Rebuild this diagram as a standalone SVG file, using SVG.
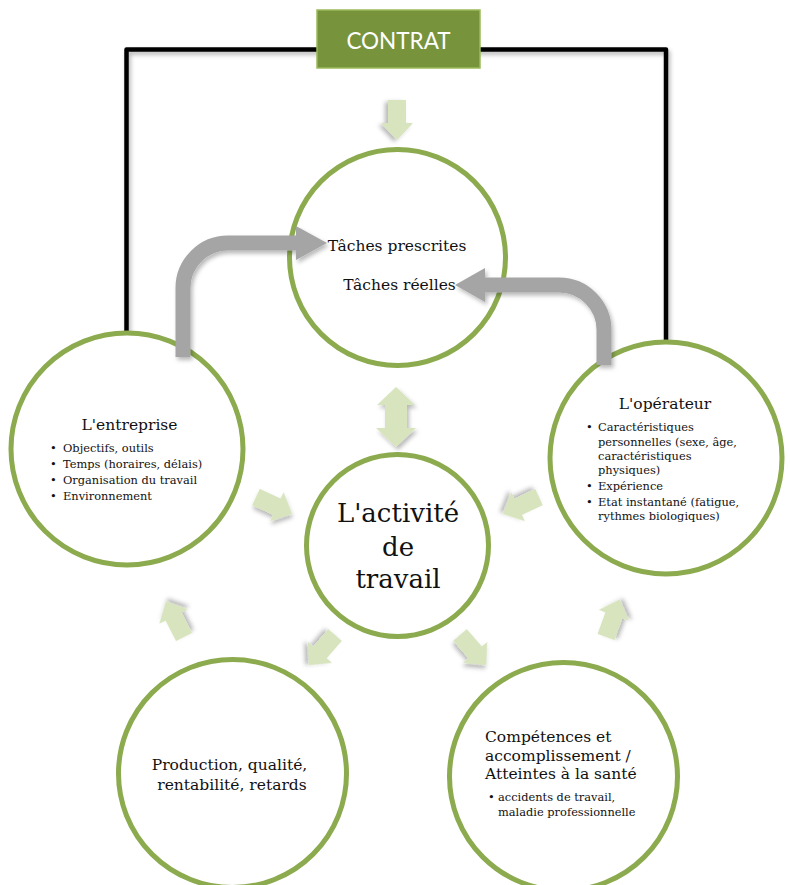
<svg xmlns="http://www.w3.org/2000/svg" xmlns:xlink="http://www.w3.org/1999/xlink" width="790" height="885" viewBox="0 0 790 885">
  <defs>
    <filter id="shadow" x="-30%" y="-30%" width="160%" height="160%">
      <feDropShadow dx="2" dy="3" stdDeviation="2" flood-color="#000" flood-opacity="0.28"/>
    </filter>
    <!-- straight block arrow pointing along +x, 40 long -->
    <path id="blk" d="M0,-9 H23 V-16 L40,0 L23,16 V9 H0 Z"/>
    <style>
      .ring { fill: #fff; stroke: #8CAA4E; stroke-width: 5; }
      .title { font-family: "DejaVu Serif", "Liberation Serif", serif; font-size: 15.5px; fill: #111; }
      .small { font-family: "DejaVu Serif", "Liberation Serif", serif; font-size: 11.4px; fill: #111; }
      .big { font-family: "DejaVu Serif", "Liberation Serif", serif; font-size: 26px; fill: #111; text-anchor: middle; }
      .mid { text-anchor: middle; }
      .flow { fill: #D7E4BD; filter: url(#shadow); }
      .loop { fill: none; stroke: #A5A5A5; stroke-width: 15; }
      .loophead { fill: #A5A5A5; }
      .frame { fill: none; stroke: #000; stroke-width: 4.5; stroke-linejoin: round; filter: url(#shadow); }
    </style>
  </defs>

  <rect width="790" height="885" fill="#fff"/>

  <!-- contract frame linking the company and the operator -->
  <g id="frame">
    <path class="frame" d="M126.5,338 V49.5 H666 V342"/>
  </g>

  <g id="node-contrat">
    <rect x="317" y="10" width="163" height="58" fill="#77933C" stroke="#9BBB59" stroke-width="1.5"/>
    <text x="398.5" y="49" font-family="Lato, 'Open Sans', sans-serif" font-size="22.5" fill="#fff" text-anchor="middle">CONTRAT</text>
  </g>

  <g id="node-taches">
    <circle class="ring" cx="397.5" cy="257.5" r="108"/>
    <text class="title mid" x="397" y="251">Tâches prescrites</text>
    <text class="title mid" x="399.5" y="290">Tâches réelles</text>
  </g>

  <g id="node-entreprise">
    <circle class="ring" cx="127" cy="449" r="116"/>
    <text class="title mid" x="129.5" y="430">L'entreprise</text>
    <g class="small">
      <text x="50" y="452">•</text><text x="63" y="452">Objectifs, outils</text>
      <text x="50" y="468">•</text><text x="63" y="468">Temps (horaires, délais)</text>
      <text x="50" y="484">•</text><text x="63" y="484">Organisation du travail</text>
      <text x="50" y="500">•</text><text x="63" y="500">Environnement</text>
    </g>
  </g>

  <g id="node-operateur">
    <circle class="ring" cx="666" cy="458" r="116"/>
    <text class="title mid" x="665" y="409">L'opérateur</text>
    <g class="small">
      <text x="586" y="431">•</text><text x="598" y="431">Caractéristiques</text>
      <text x="598" y="446">personnelles (sexe, âge,</text>
      <text x="598" y="460">caractéristiques</text>
      <text x="598" y="474">physiques)</text>
      <text x="586" y="490">•</text><text x="598" y="490">Expérience</text>
      <text x="586" y="506">•</text><text x="598" y="506">Etat instantané (fatigue,</text>
      <text x="598" y="520">rythmes biologiques)</text>
    </g>
  </g>

  <g id="node-activite">
    <circle class="ring" cx="397.5" cy="545.5" r="91"/>
    <text class="big" x="398" y="522">L'activité</text>
    <text class="big" x="398" y="556">de</text>
    <text class="big" x="398" y="588">travail</text>
  </g>

  <g id="node-production">
    <circle class="ring" cx="232.5" cy="773.5" r="114"/>
    <text class="title mid" x="229.5" y="770">Production, qualité,</text>
    <text class="title mid" x="232" y="790">rentabilité, retards</text>
  </g>

  <g id="node-competences">
    <circle class="ring" cx="563.5" cy="776.5" r="114"/>
    <text class="title" x="485" y="742">Compétences et</text>
    <text class="title" x="485" y="761">accomplissement /</text>
    <text class="title" x="485" y="779">Atteintes à la santé</text>
    <g class="small">
      <text x="488" y="801">•</text><text x="498" y="801">accidents de travail,</text>
      <text x="498" y="816">maladie professionnelle</text>
    </g>
  </g>

  <g id="connectors">
    <!-- light green flow arrows -->
    <use xlink:href="#blk" class="flow" transform="translate(397,100) rotate(90)"/>
    <polygon class="flow" points="396,387 415,405 407,405 407,428 416,428 396,447 376,428 385,428 385,405 377,405"/>
    <use xlink:href="#blk" class="flow" transform="translate(256,497) rotate(25)"/>
    <use xlink:href="#blk" class="flow" transform="translate(539,497) rotate(155)"/>
    <use xlink:href="#blk" class="flow" transform="translate(335,635) rotate(131)"/>
    <use xlink:href="#blk" class="flow" transform="translate(460,635) rotate(49)"/>
    <use xlink:href="#blk" class="flow" transform="translate(184,637) rotate(-117)"/>
    <use xlink:href="#blk" class="flow" transform="translate(606,637) rotate(-70)"/>

    <!-- grey loop arrows between the side nodes and the tasks -->
    <g filter="url(#shadow)">
      <path class="loop" d="M183,357 V288 A45,45 0 0 1 228,243 H298"/>
      <polygon class="loophead" points="296,226 327,243 296,260"/>
    </g>
    <g filter="url(#shadow)">
      <path class="loop" d="M604,365 V330 A45,45 0 0 0 559,285 H483"/>
      <polygon class="loophead" points="485,268 455,285 485,302"/>
    </g>
  </g>
</svg>
